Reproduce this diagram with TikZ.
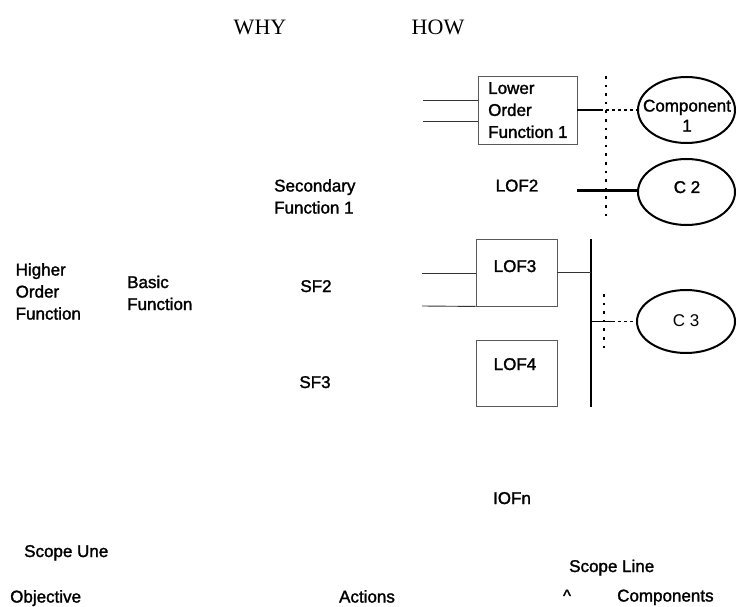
\documentclass[tikz,border=0pt]{standalone}
\usepackage{fontspec}
\setmainfont{Liberation Sans}[FakeBold=1.6]
\newfontfamily\plainsans{Liberation Sans}
\newfontfamily\whyfont{Liberation Serif}
\usetikzlibrary{shapes.geometric}
\begin{document}
\begin{tikzpicture}[x=1pt,y=-1pt,
  txt/.style={font=\fontsize{17}{22}\selectfont, inner sep=0pt},
  serif/.style={font=\whyfont\fontsize{22}{26}\selectfont, inner sep=0pt},
  fbox/.style={draw=black!65, line width=0.9pt, inner sep=0pt},
  comp/.style={draw=black, line width=2pt, ellipse, inner sep=0pt},
  feed/.style={draw=black!80, line width=0.9pt},
  link/.style={draw=black, line width=1.3pt},
  linkdash/.style={draw=black, line width=1.3pt, dash pattern=on 3pt off 3pt},
  scopedots/.style={draw=black, line width=2.6pt, dash pattern=on 2.6pt off 6pt}
]
\useasboundingbox (0,0) rectangle (737,607);

% headings
\node[serif, anchor=base] (why) at (260,35) {WHY};
\node[serif, anchor=base] (how) at (438,35) {HOW};

% left column texts
\node[txt, align=left, anchor=north west] (hof) at (15.5,263) {Higher\\Order\\Function};
\node[txt, align=left, anchor=north west] (bf) at (127,275.5) {Basic\\Function};
\node[txt, align=left, anchor=north west] (sf1) at (274,179) {Secondary\\Function 1};
\node[txt, anchor=base] (sf2) at (316,292) {SF2};
\node[txt, anchor=base] (sf3) at (315,388) {SF3};

% lower order function 1
\node[fbox, minimum width=99pt, minimum height=68pt] (lof1) at (527.5,110) {};
\node[txt, align=left, anchor=north west] (lof1t) at (488,82) {Lower\\Order\\Function 1};
\coordinate (in1a) at (423,100);
\coordinate (in1b) at (423,121);
\draw[feed] (in1a) -- (in1a -| lof1.west);
\draw[feed] (in1b) -- (in1b -| lof1.west);

% component 1
\node[comp, minimum width=97pt, minimum height=66pt] (c1) at (686.5,110) {};
\node[txt, font=\fontsize{17}{20}\selectfont, align=center, anchor=north] (c1t) at (687,99.5) {Component\\1};
\coordinate (k1) at (600,110);
\draw[link] (lof1.east) -- (k1);
\draw[linkdash] (k1) -- (c1.west);

% scope line dots (upper)
\coordinate (s1top) at (606,76);
\coordinate (s1bot) at (606,222);
\draw[scopedots] (s1top) -- (s1bot);

% LOF2 and C2
\node[txt, anchor=base] (lof2) at (517,191.5) {LOF2};
\node[comp, minimum width=97pt, minimum height=66pt] (c2) at (686.5,192) {};
\node[txt, anchor=base] (c2t) at (687,193) {C 2};
\coordinate (l2) at (577,191);
\draw[draw=black, line width=3pt] (l2) -- (l2 -| c2.west);

% LOF3
\node[fbox, minimum width=81pt, minimum height=67pt] (lof3) at (516.5,272.5) {};
\node[txt, anchor=base] (lof3t) at (515,272) {LOF3};
\coordinate (in3a) at (422,273);
\coordinate (in3b) at (422,306);
\draw[feed] (in3a) -- (in3a -| lof3.west);
\draw[feed] (in3b) -- (lof3.south west);

% bus line
\coordinate (bustop) at (591,239);
\coordinate (busbot) at (591,407);
\draw[draw=black, line width=1.5pt] (bustop) -- (busbot);
\draw[feed] (lof3.east) -- (lof3.east -| bustop);

% LOF4
\node[fbox, minimum width=81pt, minimum height=66pt] (lof4) at (516.5,373) {};
\node[txt, anchor=base] (lof4t) at (515,370) {LOF4};

% C3
\node[comp, minimum width=98pt, minimum height=63pt] (c3) at (686,321.5) {};
\node[txt, font=\plainsans\fontsize{17}{22}\selectfont, anchor=base] (c3t) at (686,326) {C 3};
\coordinate (b3) at (591,321.5);
\coordinate (k3) at (612,321.5);
\draw[link] (b3) -- (k3);
\draw[linkdash] (k3) -- (c3.west);

% scope line dots (lower)
\coordinate (s2top) at (604,294);
\coordinate (s2bot) at (604,352);
\draw[scopedots] (s2top) -- (s2bot);

% bottom texts
\node[txt, anchor=base] (iofn) at (512,504) {IOFn};
\node[txt, anchor=base west] (scu) at (24,557) {Scope Une};
\node[txt, anchor=base west] (scl) at (569,572) {Scope Line};
\node[txt, anchor=base west] (obj) at (10,602.5) {Objective};
\node[txt, anchor=base] (act) at (367,602.5) {Actions};
\node[txt, anchor=base] (caret) at (567,601.5) {\^{}};
\node[txt, anchor=base west] (cmp) at (617,601.5) {Components};
\end{tikzpicture}
\end{document}
